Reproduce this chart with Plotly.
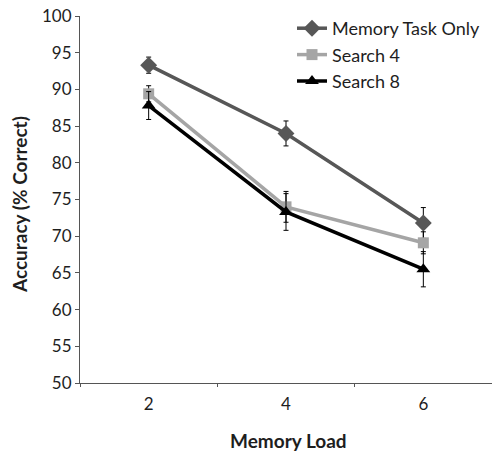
import plotly.graph_objects as go

memory_load = ["2", "4", "6"]
series_names = ["Memory Task Only", "Search 4", "Search 8"]
memory_only = [93.3, 84.0, 71.8]
memory_only_err = [1.1, 1.7, 2.1]
search4 = [89.4, 74.0, 69.1]
search4_err = [1.1, 2.1, 1.5]
search8 = [87.8, 73.3, 65.5]
search8_err = [1.9, 2.5, 2.4]

styles = [
    dict(color="#575757", symbol="diamond", size=13),
    dict(color="#a5a5a5", symbol="square", size=11),
    dict(color="#000000", symbol="triangle-up", size=12),
]

fig = go.Figure()
for name, vals, errs, st in zip(series_names,
                                [memory_only, search4, search8],
                                [memory_only_err, search4_err, search8_err],
                                styles):
    fig.add_trace(go.Scatter(
        x=memory_load, y=vals, name=name, mode="lines+markers",
        line=dict(color=st["color"], width=3.5),
        marker=dict(color=st["color"], symbol=st["symbol"], size=st["size"]),
        error_y=dict(type="data", array=errs, visible=True, color="#000000",
                     thickness=1, width=2.5),
    ))

font_family = "Lato, 'Open Sans', sans-serif"
W, H = 492, 453
ml, mr, mt, mb = 80, 0, 16, 70
PW, PH = W - ml - mr, H - mt - mb


def px_x(sx):
    return (sx - ml) / PW


def px_y(sy):
    return ((H - mb) - sy) / PH


fig.update_layout(
    width=W, height=H,
    margin=dict(l=ml, r=mr, t=mt, b=mb, autoexpand=False),
    paper_bgcolor="white", plot_bgcolor="white",
    font=dict(family=font_family, size=17, color="#1e1e1e"),
    showlegend=True,
    legend=dict(x=px_x(292), y=px_y(10), xanchor="left", yanchor="top",
                font=dict(size=18), bgcolor="rgba(0,0,0,0)",
                itemwidth=30, tracegroupgap=0),
    xaxis=dict(type="category", range=[-0.5, 2.5], tickson="boundaries",
               ticks="outside", ticklen=3, tickcolor="#555555",
               ticklabelstandoff=6,
               showline=True, linecolor="#555555", linewidth=1,
               showgrid=False, zeroline=False, automargin=False),
    yaxis=dict(range=[50, 100], dtick=5, ticks="outside", ticklen=4,
               tickcolor="#555555", showline=True, linecolor="#555555",
               linewidth=1, showgrid=False, zeroline=False, automargin=False,
               ticklabeloverflow="allow"),
    annotations=[
        dict(text="<b>Memory Load</b>", xref="paper", yref="paper",
             x=px_x(288), y=px_y(440),
             xanchor="center", yanchor="middle", showarrow=False,
             font=dict(size=19)),
        dict(text="<b>Accuracy (% Correct)</b>", xref="paper", yref="paper",
             x=px_x(20), y=px_y(205),
             xanchor="center", yanchor="middle", textangle=-90,
             showarrow=False, font=dict(size=19)),
    ],
)

# remove the browser's default 8px body margin so the figure fills the window
fig.write_html("out.html",
               config={"displayModeBar": False},
               post_script="document.body.style.margin='0';"
                           "document.body.style.overflow='hidden';")
